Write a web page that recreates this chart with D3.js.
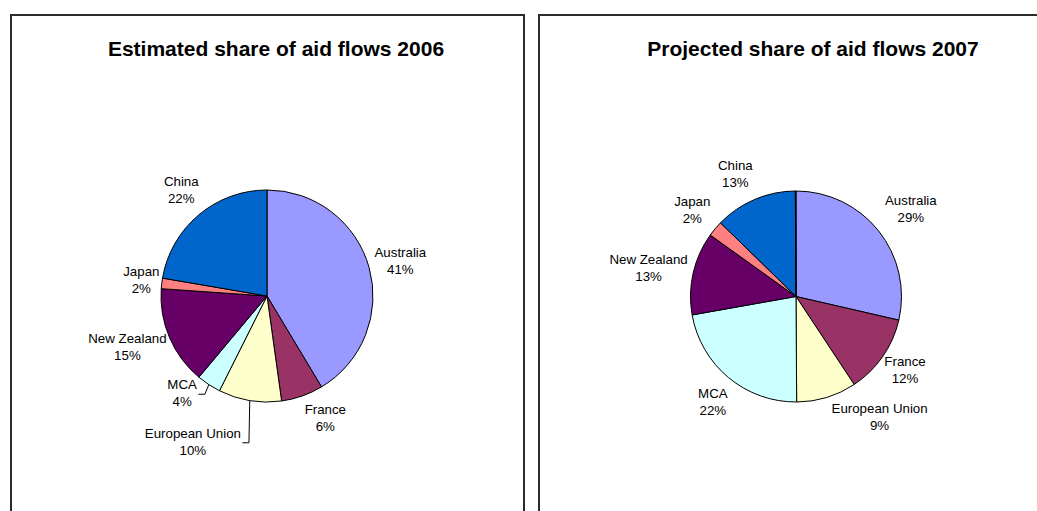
<!DOCTYPE html>
<html>
<head>
<meta charset="utf-8">
<script src="https://cdn.jsdelivr.net/npm/d3@7"></script>
<style>
  html, body { margin: 0; padding: 0; background: #fff; }
  svg { display: block; font-family: "Liberation Sans", Arial, sans-serif; }
</style>
</head>
<body>
<svg id="chart" width="1037" height="511"></svg>
<script>
// ---- data ----
const categories = ["Australia", "France", "European Union", "MCA", "New Zealand", "Japan", "China", "Other"];
const colors = ["#9999FF", "#993366", "#FFFFCC", "#CCFFFF", "#660066", "#FF8080", "#0066CC", "#000080"];
const values2006 = [41.4, 6.4, 9.6, 3.7, 15.0, 1.6, 22.3, 0];
const values2007 = [28.6, 12.1, 9.2, 22.3, 12.7, 2.4, 12.6, 0.1];
const titles = ["Estimated share of aid flows 2006", "Projected share of aid flows 2007"];
const labelled = [true, true, true, true, true, true, true, false];

// ---- layout (not data) ----
const panels = [
  { box: [11, 15, 513], center: [267, 296], r: 106, titleX: 276, values: values2006,
    nudge: { "France": [14, 0], "European Union": [-48, 18, true], "MCA": [-15, -11, true], "China": [-2, -7], "Japan": [4, -1] } },
  { box: [539, 15, 510], center: [796, 296.5], r: 105.5, titleX: 813, values: values2007,
    nudge: { "Australia": [7, -7], "European Union": [37, -3], "MCA": [-2, 6], "China": [-10, -4], "Japan": [-4, -4] } }
];
const fontSize = 13.3, lineGap = 17;

const svg = d3.select("#chart");

// text width measurer
const meas = svg.append("text").attr("font-size", fontSize).attr("visibility", "hidden");
function textW(s) { meas.text(s); return meas.node().getComputedTextLength(); }

panels.forEach((p, pi) => {
  const g = svg.append("g");
  g.append("rect")
    .attr("x", p.box[0]).attr("y", p.box[1])
    .attr("width", p.box[2]).attr("height", 700)
    .attr("fill", "#fff").attr("stroke", "#2b2b2b").attr("stroke-width", 2);

  g.append("text")
    .attr("x", p.titleX).attr("y", 48)
    .attr("text-anchor", "middle").attr("dominant-baseline", "central")
    .attr("font-size", 21).attr("font-weight", "bold").attr("fill", "#000")
    .text(titles[pi]);

  const data = categories.map((c, i) => ({ name: c, value: p.values[i], color: colors[i], lab: labelled[i] }))
    .filter(d => d.value > 0);
  const total = d3.sum(data, d => d.value);
  const pie = d3.pie().sort(null).value(d => d.value);
  const arc = d3.arc().innerRadius(0).outerRadius(p.r);
  const arcs = pie(data);

  const pg = g.append("g").attr("transform", `translate(${p.center[0]},${p.center[1]})`);
  pg.selectAll("path").data(arcs).join("path")
    .attr("d", arc)
    .attr("fill", d => d.data.color)
    .attr("stroke", "#000").attr("stroke-width", 1).attr("stroke-linejoin", "round");

  const ra = p.r + 6.5;
  arcs.filter(a => a.data.lab).forEach(a => {
    const name = a.data.name;
    const pct = Math.round(a.data.value / total * 100) + "%";
    const w = Math.max(textW(name), textW(pct));
    const h = lineGap * 2;
    const th = (a.startAngle + a.endAngle) / 2;
    const s = Math.sin(th), c = Math.cos(th);
    const nd = p.nudge[name] || [0, 0];
    const cx = s * (ra + w / 2) + nd[0];
    const cy = -c * (ra + h / 2) + nd[1];

    if (nd[2]) {
      const px = s * p.r, py = -c * p.r;
      const right = cx + w / 2;
      pg.append("path")
        .attr("d", `M${px},${py}L${right + 8},${cy + 1}L${right + 1.5},${cy + 1}`)
        .attr("fill", "none").attr("stroke", "#000").attr("stroke-width", 1);
    }

    const t = pg.append("text")
      .attr("text-anchor", "middle").attr("font-size", fontSize).attr("fill", "#000");
    t.append("tspan").attr("x", cx).attr("y", cy - lineGap / 2).attr("dominant-baseline", "central").text(name);
    t.append("tspan").attr("x", cx).attr("y", cy + lineGap / 2).attr("dominant-baseline", "central").text(pct);
  });
});
meas.remove();
</script>
</body>
</html>
